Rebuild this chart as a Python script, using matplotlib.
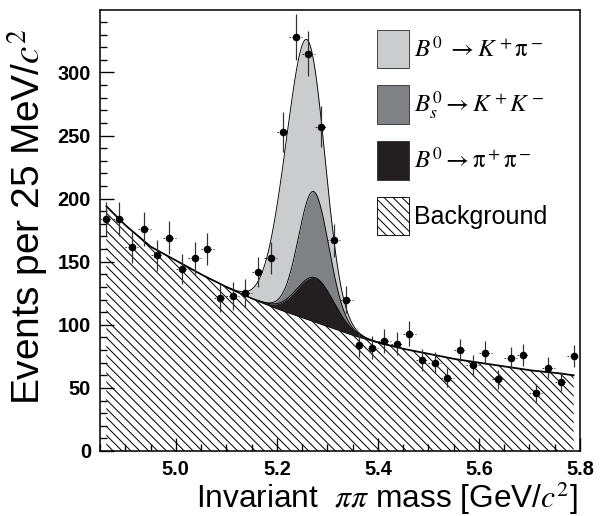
import numpy as np
import matplotlib
matplotlib.use('Agg')
import matplotlib.pyplot as plt
from matplotlib.patches import Patch
from matplotlib.ticker import MultipleLocator

plt.rcParams['font.family'] = ['Liberation Sans', 'DejaVu Sans']
plt.rcParams['mathtext.fontset'] = 'stix'
plt.rcParams['hatch.linewidth'] = 0.9

# 25 MeV bins from 4.85 to 5.80 GeV/c^2
bin_edges = np.linspace(4.85, 5.80, 39)
counts = [184, 184, 162, 176, 155, 169, 144, 153, 160, 121, 123, 125, 142, 153,
          253, 328, 315, 257, 167, 120, 84, 82, 87, 85, 93, 72, 70, 58, 80, 68,
          78, 57, 74, 76, 46, 66, 55, 75]

# background fit curve
bkg_x = [4.8625, 4.90, 4.95, 5.00, 5.05, 5.10, 5.15, 5.20, 5.25, 5.30,
         5.35, 5.40, 5.45, 5.50, 5.55, 5.60, 5.65, 5.70, 5.75, 5.7875]
bkg_y = [194, 179, 162, 151, 140, 130, 121, 113, 106, 99,
         92, 86, 81, 77, 73, 70, 67, 64, 62, 60]

# signal components (gaussian peaks): B0->Kpi, Bs->KK, B0->pipi
peak_mean = [5.243, 5.272, 5.276]
peak_sigma = [0.038, 0.028, 0.036]
peak_height = [141, 68, 35]

labels = [r'$B^0\;\rightarrow K^+\mathrm{\pi}^-$',
          r'$B_s^0 \rightarrow K^+K^-$',
          r'$B^0 \rightarrow \mathrm{\pi}^+\mathrm{\pi}^-$',
          'Background']
c_light = '#cbcccd'
c_mid = '#808184'
c_dark = '#231f20'

centers = 0.5 * (bin_edges[:-1] + bin_edges[1:])
counts = np.array(counts)
errs = np.sqrt(counts)

xf = np.linspace(bkg_x[0], bkg_x[-1], 1000)
bg = np.interp(xf, bkg_x, bkg_y)
comp = [h * np.exp(-0.5 * ((xf - m) / s) ** 2)
        for m, s, h in zip(peak_mean, peak_sigma, peak_height)]
kpi, kk, pipi = comp
lvl1 = bg + pipi
lvl2 = lvl1 + kk
lvl3 = lvl2 + kpi

fig = plt.figure(figsize=(611 / 80, 516 / 80), dpi=80)
ax = fig.add_axes([100 / 611, 1 - 451 / 516, 480 / 611, 441 / 516])

ax.fill_between(xf, 0, bg, facecolor='white', edgecolor='black',
                hatch='\\\\\\', lw=0, zorder=1)
ax.plot(xf, bg, color='black', lw=1.6, zorder=2)
ax.fill_between(xf, bg, lvl1, color=c_dark, lw=0, zorder=3)
ax.fill_between(xf, lvl1, lvl2, color=c_mid, lw=0, zorder=3)
ax.fill_between(xf, lvl2, lvl3, color=c_light, lw=0, zorder=3)
sel = (xf > 5.10) & (xf < 5.42)
for lv in (lvl1, lvl2, lvl3):
    ax.plot(xf[sel], lv[sel], color='black', lw=0.8, zorder=4)

ax.hlines(counts, centers - 0.0125, centers + 0.0125, colors='#333333',
          linestyles=(0, (1.5, 1.5)), lw=0.9, zorder=5)
ax.errorbar(centers, counts, yerr=errs, fmt='o', ms=5.8, color='black',
            ecolor='#333333', elinewidth=1.1, capsize=0, zorder=6)

ax.set_xlim(4.85, 5.80)
ax.set_ylim(0, 349.5)
ax.xaxis.set_major_locator(MultipleLocator(0.2))
ax.xaxis.set_minor_locator(MultipleLocator(0.05))
ax.yaxis.set_major_locator(MultipleLocator(50))
ax.yaxis.set_minor_locator(MultipleLocator(10))
ax.xaxis.set_major_formatter(matplotlib.ticker.FormatStrFormatter('%.1f'))
ax.tick_params(which='both', direction='in', top=False, right=False,
               width=1.2, labelsize=18)
ax.tick_params(axis='y', which='major', length=13, pad=8)
ax.tick_params(axis='x', which='major', length=12, pad=8)
ax.tick_params(which='minor', length=6)
for lab in ax.get_xticklabels() + ax.get_yticklabels():
    lab.set_fontweight('bold')
for sp in ax.spines.values():
    sp.set_linewidth(1.4)

ax.set_xlabel('Invariant  $\\pi\\pi$ mass [GeV/$c^2$]', fontsize=28.5,
              ha='right', va='baseline')
ax.xaxis.set_label_coords(0.996, -0.129)
ax.set_ylabel('Events per 25 MeV/$c^2$', fontsize=35)
ax.yaxis.set_label_coords(-0.104, 0.53)

handles = [Patch(facecolor=c_light, edgecolor='#333333', lw=0.8),
           Patch(facecolor=c_mid, edgecolor='#333333', lw=0.8),
           Patch(facecolor=c_dark, edgecolor='#333333', lw=0.8),
           Patch(facecolor='white', edgecolor='black', hatch='\\\\\\', lw=0.8)]
ax.legend(handles, labels, loc='upper left', bbox_to_anchor=(0.577, 0.955),
          frameon=False, fontsize=22.5, handlelength=1.28, handleheight=2.0,
          labelspacing=0.68, handletextpad=0.2, borderpad=0, borderaxespad=0)

fig.savefig('out.png', dpi=80)
